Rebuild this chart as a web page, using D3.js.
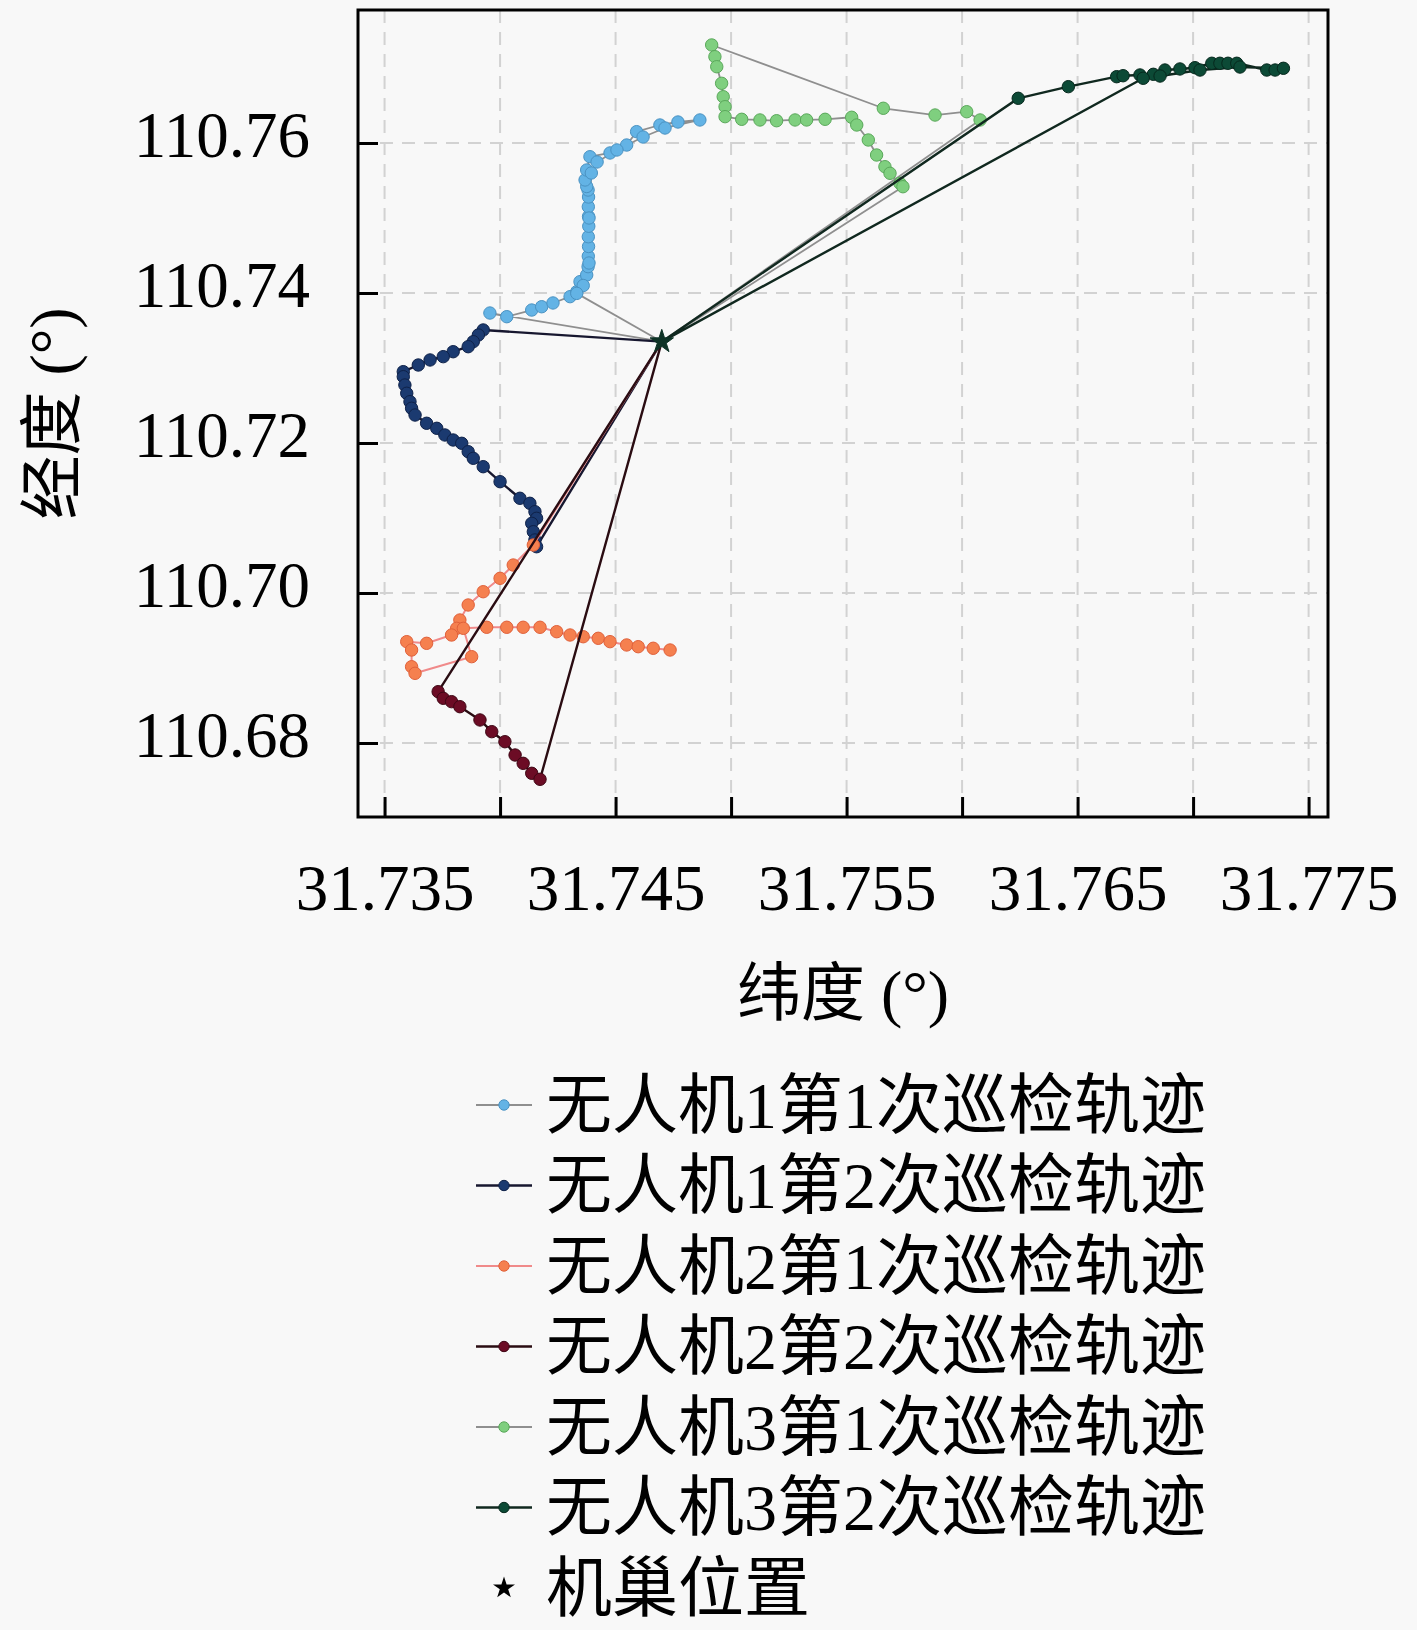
<!DOCTYPE html>
<html><head><meta charset="utf-8">
<script src="https://cdn.jsdelivr.net/npm/d3@7"></script>
<style>
html,body{margin:0;padding:0;background:#f8f8f8;}
svg{display:block;}
</style></head><body>
<svg id="c" width="1417" height="1630"></svg>
<script>
// ---------------- data ----------------
const seriesNames = ["无人机1第1次巡检轨迹","无人机1第2次巡检轨迹","无人机2第1次巡检轨迹","无人机2第2次巡检轨迹","无人机3第1次巡检轨迹","无人机3第2次巡检轨迹"];
const hubName = "机巢位置";
const hubLat = [31.74700];
const hubLon = [110.73351];

const u1r1Lat = [31.73956,31.74029,31.74137,31.74180,31.74229,31.74303,31.74332,31.74346,31.74375,31.74381,31.74382,31.74383,31.74382,31.74384,31.74383,31.74382,31.74383,31.74381,31.74375,31.74368,31.74375,31.74389,31.74476,31.74548,31.74591,31.74692,31.74770,31.74865,31.74714,31.74619,31.74506,31.74420,31.74395,31.74385,31.74385,31.74360,31.74332];
const u1r1Lon = [110.73733,110.73684,110.73773,110.73817,110.73867,110.73951,110.74017,110.74151,110.74240,110.74351,110.74490,110.74620,110.74750,110.74890,110.75020,110.75150,110.75280,110.75373,110.75420,110.75507,110.75640,110.75817,110.75867,110.75973,110.76151,110.76240,110.76280,110.76307,110.76200,110.76080,110.75907,110.75747,110.75600,110.75000,110.74400,110.74100,110.73995];

const u1r2Lat = [31.73927,31.73906,31.73884,31.73862,31.73797,31.73754,31.73697,31.73646,31.73581,31.73581,31.73588,31.73596,31.73610,31.73617,31.73632,31.73682,31.73726,31.73761,31.73797,31.73834,31.73862,31.73884,31.73927,31.74000,31.74086,31.74129,31.74151,31.74158,31.74137,31.74144,31.74151,31.74158];
const u1r2Lon = [110.73507,110.73440,110.73351,110.73284,110.73217,110.73151,110.73107,110.73040,110.72951,110.72884,110.72773,110.72663,110.72551,110.72463,110.72373,110.72263,110.72196,110.72107,110.72040,110.71996,110.71884,110.71796,110.71684,110.71484,110.71263,110.71196,110.71084,110.70996,110.70929,110.70817,110.70707,110.70617];

const u2r1Lat = [31.74144,31.74057,31.74000,31.73927,31.73862,31.73826,31.73812,31.73790,31.73682,31.73596,31.73617,31.73617,31.73632,31.73877,31.73841,31.73942,31.74029,31.74100,31.74173,31.74245,31.74303,31.74360,31.74425,31.74476,31.74548,31.74598,31.74663,31.74736];
const u2r1Lon = [110.70640,110.70373,110.70196,110.70017,110.69840,110.69640,110.69529,110.69440,110.69329,110.69351,110.69240,110.69017,110.68929,110.69151,110.69529,110.69543,110.69543,110.69543,110.69543,110.69484,110.69440,110.69417,110.69396,110.69351,110.69307,110.69284,110.69263,110.69240];

const u2r2Lat = [31.73732,31.73754,31.73790,31.73826,31.73913,31.73964,31.74021,31.74065,31.74100,31.74137,31.74173];
const u2r2Lon = [110.68684,110.68596,110.68551,110.68484,110.68307,110.68151,110.68017,110.67840,110.67729,110.67596,110.67516];

const u3r1Lat = [31.76078,31.76020,31.75883,31.75659,31.74916,31.74930,31.74938,31.74959,31.74966,31.74974,31.74974,31.75046,31.75125,31.75197,31.75277,31.75327,31.75407,31.75522,31.75544,31.75594,31.75630,31.75666,31.75688,31.75731,31.75744];
const u3r1Lon = [110.76307,110.76417,110.76373,110.76463,110.77307,110.77151,110.77017,110.76796,110.76617,110.76484,110.76351,110.76316,110.76307,110.76297,110.76307,110.76307,110.76316,110.76343,110.76240,110.76040,110.75840,110.75684,110.75596,110.75463,110.75417];

const u3r2Lat = [31.76243,31.76460,31.76669,31.76697,31.76770,31.76828,31.76878,31.76943,31.77008,31.77081,31.77116,31.77151,31.77189,31.77319,31.77355,31.77391,31.77203,31.77030,31.76857,31.76784];
const u3r2Lon = [110.76596,110.76751,110.76884,110.76897,110.76907,110.76916,110.76973,110.76987,110.77004,110.77063,110.77063,110.77063,110.77063,110.76973,110.76973,110.76996,110.77013,110.76973,110.76893,110.76863];

const returnsToHub = [true, true, false, true, true, true];

const xTicks = [31.735,31.740,31.745,31.750,31.755,31.760,31.765,31.770,31.775];
const xTickLabels = ["31.735","","31.745","","31.755","","31.765","","31.775"];
const yTicks = [110.68,110.70,110.72,110.74,110.76];
const yTickLabels = ["110.68","110.70","110.72","110.74","110.76"];
const xTitle = "纬度 (°)";
const yTitle = "经度 (°)";

// ---------------- style ----------------
const markerFill = ["#63b3e5","#1b3a70","#f5804f","#6c0c25","#7fcf7f","#0c4a36"];
const markerStroke = ["#4a92c2","#0e2148","#e0603a","#3e0614","#5aa85a","#06281d"];
const lineColor = ["#8f8f8f","#17172f","#f08a8a","#2a0c12","#8f8f8f","#10281f"];
const lineWidth = [1.8,2.4,2,2.4,1.8,2.4];

const W = 1417, H = 1630;
const L = 358, R = 1328, T = 10, B = 817;
const numFont = "'Liberation Serif','Noto Sans CJK SC',serif";

const svg = d3.select("#c");
svg.append("rect").attr("width",W).attr("height",H).attr("fill","#f8f8f8");

const x = d3.scaleLinear().domain([31.73385, 31.77584]).range([L, R]);
const y = d3.scaleLinear().domain([110.670133, 110.777733]).range([B, T]);

// grid
const grid = svg.append("g");
grid.selectAll("line.v").data(xTicks).join("line")
  .attr("x1", d=>x(d)).attr("x2", d=>x(d)).attr("y1", T).attr("y2", B)
  .attr("stroke","#d2d2d2").attr("stroke-width",2).attr("stroke-dasharray","13 9");
grid.selectAll("line.h").data(yTicks).join("line")
  .attr("y1", d=>y(d)).attr("y2", d=>y(d)).attr("x1", L).attr("x2", R)
  .attr("stroke","#d2d2d2").attr("stroke-width",2).attr("stroke-dasharray","13 9");

// axes
const xAxis = d3.axisBottom(x).tickValues(xTicks).tickFormat((d,i)=>xTickLabels[i])
  .tickSizeInner(-20).tickSizeOuter(0).tickPadding(0);
const gx = svg.append("g").attr("transform",`translate(0,${B})`).call(xAxis);
gx.select(".domain").remove();
gx.selectAll(".tick line").attr("stroke","#000").attr("stroke-width",3);
gx.selectAll(".tick text").attr("y",93).attr("dy",0)
  .attr("font-family",numFont).attr("font-size",65).attr("fill","#000");

const yAxis = d3.axisLeft(y).tickValues(yTicks).tickFormat((d,i)=>yTickLabels[i])
  .tickSizeInner(-20).tickSizeOuter(0).tickPadding(0);
const gy = svg.append("g").attr("transform",`translate(${L},0)`).call(yAxis);
gy.select(".domain").remove();
gy.selectAll(".tick line").attr("stroke","#000").attr("stroke-width",3);
gy.selectAll(".tick text").attr("x",-48).attr("y",14).attr("dy",0)
  .attr("font-family",numFont).attr("font-size",65).attr("fill","#000");

// titles
svg.append("text").attr("x",(L+R)/2).attr("y",993).attr("text-anchor","middle")
  .attr("dominant-baseline","central").attr("font-family",numFont).attr("font-size",64)
  .attr("fill","#000").text(xTitle);
svg.append("text").attr("transform",`translate(52,${(T+B)/2}) rotate(-90)`).attr("text-anchor","middle")
  .attr("dominant-baseline","central").attr("font-family",numFont).attr("font-size",64)
  .attr("fill","#000").text(yTitle);

// series
const lats = [u1r1Lat,u1r2Lat,u2r1Lat,u2r2Lat,u3r1Lat,u3r2Lat];
const lons = [u1r1Lon,u1r2Lon,u2r1Lon,u2r2Lon,u3r1Lon,u3r2Lon];
const hub = {lat: hubLat[0], lon: hubLon[0]};
const line = d3.line().x(d=>x(d.lat)).y(d=>y(d.lon));
const plot = svg.append("g");
lats.forEach((la,i)=>{
  const pts = la.map((v,j)=>({lat:v, lon:lons[i][j]}));
  const path = [hub, ...pts];
  if (returnsToHub[i]) path.push(hub);
  plot.append("path").datum(path).attr("d",line).attr("fill","none")
    .attr("stroke",lineColor[i]).attr("stroke-width",lineWidth[i]).attr("stroke-linejoin","round");
  plot.append("g").selectAll("circle").data(pts).join("circle")
    .attr("cx",d=>x(d.lat)).attr("cy",d=>y(d.lon)).attr("r",6.2)
    .attr("fill",markerFill[i]).attr("stroke",markerStroke[i]).attr("stroke-width",1);
});
const star = d3.symbol().type(d3.symbolStar).size(170);
plot.selectAll("path.hub").data(hubLat).join("path").attr("class","hub")
  .attr("transform",(d,i)=>`translate(${x(d)},${y(hubLon[i])})`)
  .attr("d",star).attr("fill","#0e3326").attr("stroke","#0e3326").attr("stroke-width",1);

// frame
svg.append("rect").attr("x",L).attr("y",T).attr("width",R-L).attr("height",B-T)
  .attr("fill","none").attr("stroke","#000").attr("stroke-width",3);

// legend
const legY0 = 1105, legDy = 80.5;
const lg = svg.append("g");
seriesNames.forEach((name,i)=>{
  const cy = legY0 + i*legDy;
  lg.append("line").attr("x1",476).attr("x2",532).attr("y1",cy).attr("y2",cy)
    .attr("stroke",lineColor[i]).attr("stroke-width",lineWidth[i]);
  lg.append("circle").attr("cx",504).attr("cy",cy).attr("r",5.2)
    .attr("fill",markerFill[i]).attr("stroke",markerStroke[i]).attr("stroke-width",1);
  lg.append("text").attr("x",546).attr("y",cy).attr("dominant-baseline","central")
    .attr("font-family",numFont).attr("font-size",66).attr("fill","#000").text(name);
});
{
  const cy = legY0 + 6*legDy;
  lg.append("path").attr("transform",`translate(504,${cy})`)
    .attr("d",d3.symbol().type(d3.symbolStar).size(150)).attr("fill","#000");
  lg.append("text").attr("x",546).attr("y",cy).attr("dominant-baseline","central")
    .attr("font-family",numFont).attr("font-size",66).attr("fill","#000").text(hubName);
}
</script>
</body></html>
